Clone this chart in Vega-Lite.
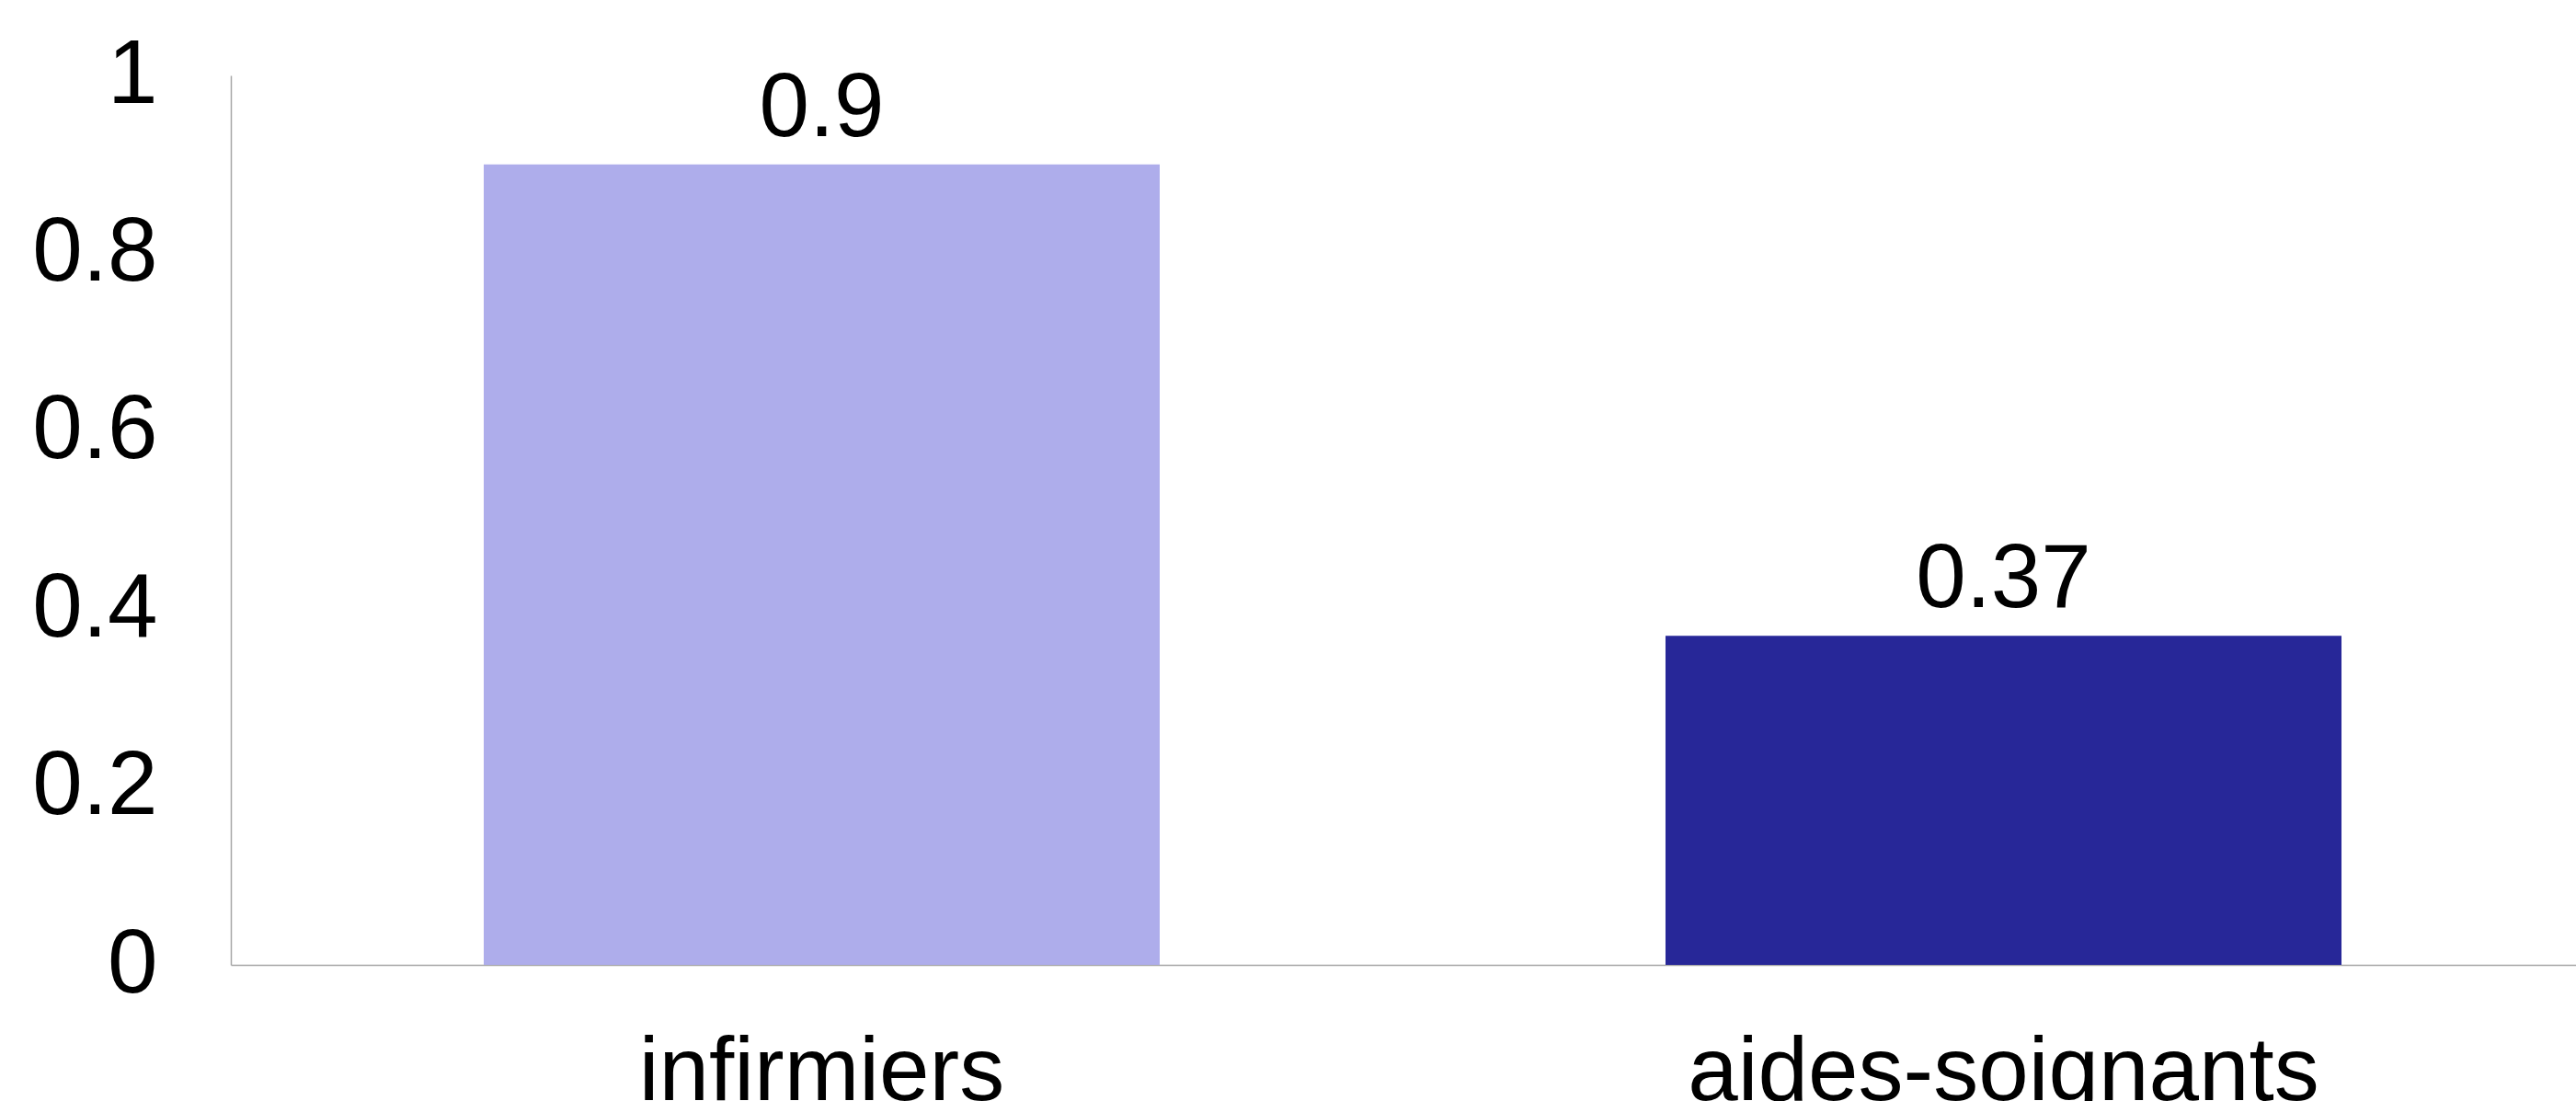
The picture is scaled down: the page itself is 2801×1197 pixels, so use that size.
{
  "$schema": "https://vega.github.io/schema/vega-lite/v6.json",
  "autosize": {"type": "none"},
  "padding": {"left": 251, "top": 82, "right": 0, "bottom": 148},
  "width": 2570,
  "height": 967,
  "background": "white",
  "config": {"view": {"stroke": null}, "font": "Liberation Sans"},
  "data": {"values": [
    {"category": "infirmiers", "value": 0.9},
    {"category": "aides-soignants", "value": 0.37}
  ]},
  "encoding": {
    "x": {"field": "category", "type": "nominal", "sort": null,
      "scale": {"paddingInner": 0.428, "paddingOuter": 0.214},
      "axis": {"title": null, "labelAngle": 0, "labelFontSize": 98, "labelFont": "Liberation Sans", "labelColor": "black", "labelLimit": 0,
        "labelPadding": 146, "labelBaseline": "alphabetic", "ticks": false, "domainColor": "#a6a6a6", "domainWidth": 1.5, "grid": false}},
    "y": {"field": "value", "type": "quantitative",
      "scale": {"domain": [0, 1], "nice": false},
      "axis": {"title": null, "values": [0, 0.2, 0.4, 0.6, 0.8, 1], "format": ".1~f", "labelFontSize": 98, "labelFont": "Liberation Sans", "labelColor": "black",
        "labelPadding": 80, "ticks": false, "grid": false, "domainColor": "#a6a6a6", "domainWidth": 1.5, "labelBaseline": "middle", "labelFlush": false}}
  },
  "layer": [
    {"mark": {"type": "bar"},
     "encoding": {"color": {"field": "category", "type": "nominal", "legend": null,
       "scale": {"domain": ["infirmiers", "aides-soignants"], "range": ["#aeadeb", "#272798"]}}}},
    {"mark": {"type": "text", "dy": -31, "baseline": "alphabetic", "fontSize": 98, "font": "Liberation Sans", "color": "black"},
     "encoding": {"text": {"field": "value", "type": "quantitative"}}}
  ]
}
